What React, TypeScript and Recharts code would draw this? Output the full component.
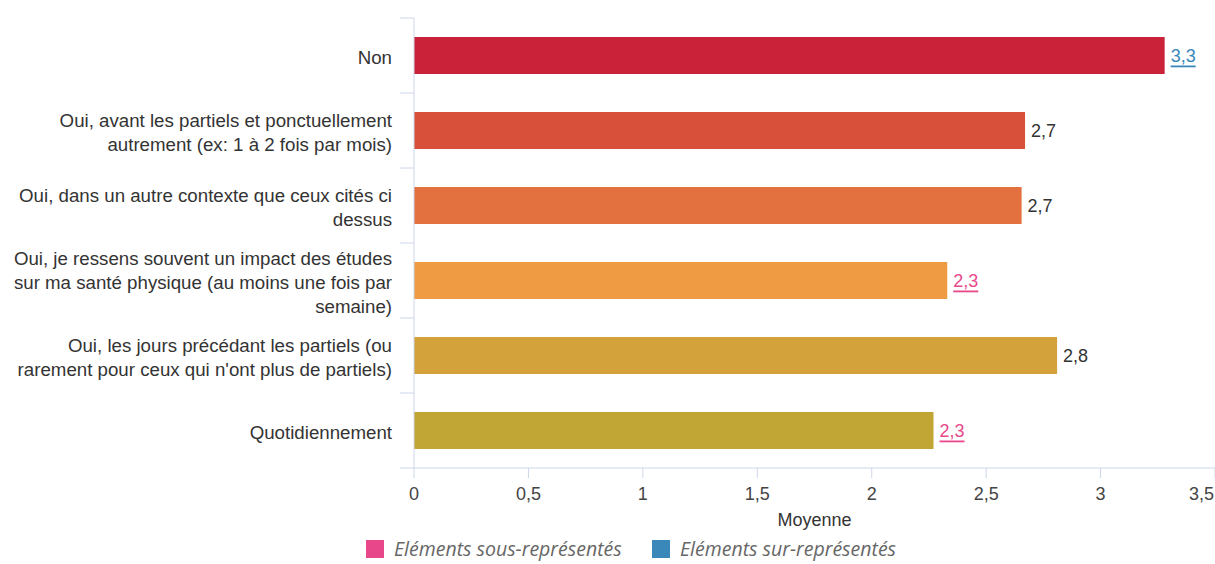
import { BarChart, Bar, XAxis, YAxis, Cell, LabelList } from 'recharts';

const categories = [
  'Non',
  'Oui, avant les partiels et ponctuellement\nautrement (ex: 1 à 2 fois par mois)',
  'Oui, dans un autre contexte que ceux cités ci\ndessus',
  'Oui, je ressens souvent un impact des études\nsur ma santé physique (au moins une fois par\nsemaine)',
  'Oui, les jours précédant les partiels (ou\nrarement pour ceux qui n\'ont plus de partiels)',
  'Quotidiennement',
];
const moyennes = [3.28, 2.67, 2.655, 2.33, 2.81, 2.27];
// 'sur' = sur-représenté, 'sous' = sous-représenté
const statuts = ['sur', '', '', 'sous', '', 'sous'];
const barColors = ['#c92239', '#d9503a', '#e3713f', '#ee9b43', '#d4a23a', '#c1a635'];
const xTicks = [0, 0.5, 1, 1.5, 2, 2.5, 3, 3.5];
const legendItems = [
  { label: 'Eléments sous-représentés', color: '#e8488a' },
  { label: 'Eléments sur-représentés', color: '#3a87ba' },
];

const W = 1215;
const H = 564;
const TOP = 18;
const BOTTOM = 468;
const AXIS_X = 414;
const BAND = (BOTTOM - TOP) / categories.length;
const AXIS_COLOR = '#ccd6eb';
const FONT = '"Liberation Sans", Arial, Helvetica, sans-serif';
const FS = 18;

const data = categories.map((c, i) => ({ name: c, value: moyennes[i], statut: statuts[i] }));

const fr = (v: number) => String(v).replace('.', ',');

function CategoryTick(props: any) {
  const { x, y, payload, index } = props;
  const lines = String(payload.value).split('\n');
  const lh = 24;
  const start = y - ((lines.length - 1) * lh) / 2 + 1;
  return (
    <g>
      <line x1={AXIS_X - 14} x2={AXIS_X} y1={y - BAND / 2} y2={y - BAND / 2} stroke={AXIS_COLOR} />
      {index === categories.length - 1 && (
        <line x1={AXIS_X - 14} x2={AXIS_X} y1={y + BAND / 2} y2={y + BAND / 2} stroke={AXIS_COLOR} />
      )}
      <text x={x - 14} y={start} textAnchor="end" fill="#333" fontSize={18.7} fontFamily={FONT} dominantBaseline="central">
        {lines.map((l, i) => (
          <tspan key={i} x={x - 14} y={start + i * lh}>{l}</tspan>
        ))}
      </text>
    </g>
  );
}

function ValueTick(props: any) {
  const { x, y, payload, index } = props;
  const last = index === xTicks.length - 1;
  return (
    <text x={last ? W - 1 : x} y={y + 20} textAnchor={last ? 'end' : 'middle'} fill="#444" fontSize={FS} fontFamily={FONT}>
      {fr(payload.value)}
    </text>
  );
}

function ValueLabel(props: any) {
  const { x, y, width, height, index } = props;
  const st = statuts[index];
  const color = st === 'sur' ? '#3a87ba' : st === 'sous' ? '#e8488a' : '#333';
  return (
    <text
      x={x + width + 6}
      y={y + height / 2}
      dominantBaseline="central"
      fill={color}
      fontSize={FS}
      fontFamily={FONT}
      textDecoration={st ? 'underline' : undefined}
    >
      {fr(Math.round(moyennes[index] * 10) / 10)}
    </text>
  );
}

export default function App() {
  return (
    <div style={{ position: 'absolute', left: 0, top: 0, width: W, height: H, background: '#fff', overflow: 'hidden' }}>
      <BarChart
        width={W}
        height={H}
        data={data}
        layout="vertical"
        margin={{ top: TOP, right: 0, bottom: H - BOTTOM - 70, left: 0 }}
        barCategoryGap={19}
      >
        <XAxis
          type="number"
          domain={[0, 3.5]}
          ticks={xTicks}
          tick={<ValueTick />}
          tickSize={10}
          stroke={AXIS_COLOR}
          tickLine={{ stroke: AXIS_COLOR }}
          height={70}
          label={{ value: 'Moyenne', position: 'insideBottom', offset: 12, fill: '#333', fontSize: FS, fontFamily: FONT }}
        />
        <YAxis
          type="category"
          dataKey="name"
          width={AXIS_X}
          tick={<CategoryTick />}
          tickLine={false}
          stroke={AXIS_COLOR}
        />
        <Bar dataKey="value" isAnimationActive={false}>
          {data.map((d, i) => (
            <Cell key={d.name} fill={barColors[i]} />
          ))}
          <LabelList dataKey="value" content={<ValueLabel />} />
        </Bar>
      </BarChart>
      <div
        style={{
          position: 'absolute',
          top: 538,
          left: 366,
          display: 'flex',
          fontFamily: '"Open Sans", sans-serif',
          lineHeight: '22px',
        }}
      >
        {legendItems.map((it) => (
          <div key={it.label} style={{ display: 'flex', alignItems: 'center', width: 286 }}>
            <span style={{ width: 18, height: 18, background: it.color, display: 'inline-block', marginRight: 10 }} />
            <span style={{ fontStyle: 'italic', color: '#666', fontSize: 19.5 }}>{it.label}</span>
          </div>
        ))}
      </div>
    </div>
  );
}
